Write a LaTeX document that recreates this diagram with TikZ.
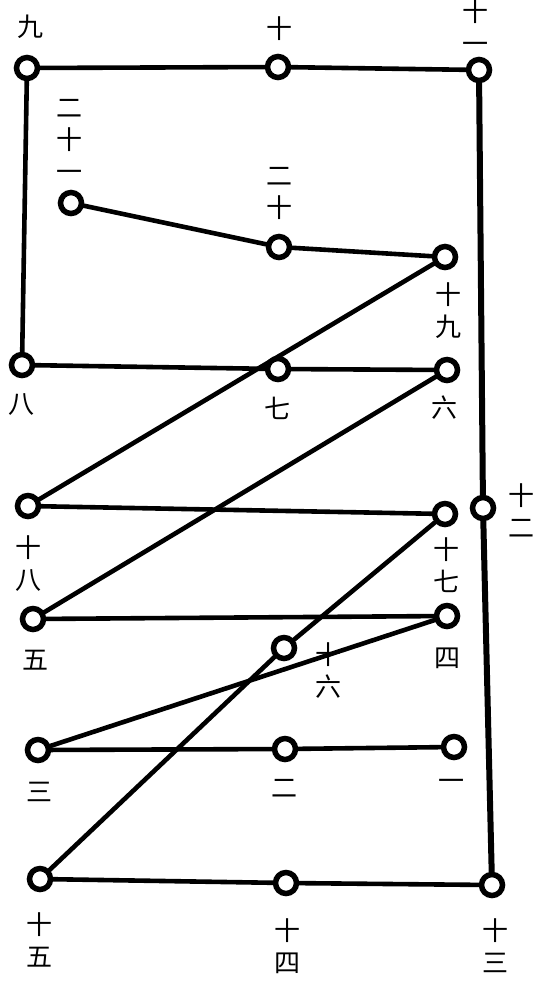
\documentclass[tikz,border=0pt]{standalone}
\usepackage{fontspec}
\newfontfamily\cjk{Noto Sans CJK SC}
\begin{document}
\begin{tikzpicture}[x=1pt,y=-1pt,
  dot/.style={circle,draw,fill=white,line width=5.5pt,minimum size=21pt,inner sep=0pt},
  lab/.style={font=\cjk\fontsize{26}{32}\selectfont,align=center,inner sep=0pt},
  link/.style={line width=4.6pt,line cap=round},
  heavylink/.style={line width=6pt,line cap=round}]
\useasboundingbox (0,0) rectangle (544,993);
% points
\node[dot] (p1)  at (454,747) {};
\node[dot] (p2)  at (285,749) {};
\node[dot] (p3)  at (38,750) {};
\node[dot] (p4)  at (447,616) {};
\node[dot] (p5)  at (33,619) {};
\node[dot] (p6)  at (447,370) {};
\node[dot] (p7)  at (278,369) {};
\node[dot] (p8)  at (22,365) {};
\node[dot] (p9)  at (27,68) {};
\node[dot] (p10) at (278,67) {};
\node[dot] (p11) at (479,70) {};
\node[dot] (p12) at (483,508) {};
\node[dot] (p13) at (492,885) {};
\node[dot] (p14) at (286,883) {};
\node[dot] (p15) at (40,879) {};
\node[dot] (p16) at (284,648) {};
\node[dot] (p17) at (445,514) {};
\node[dot] (p18) at (28,506) {};
\node[dot] (p19) at (445,257) {};
\node[dot] (p20) at (279,247) {};
\node[dot] (p21) at (71,203) {};
% connectors
\draw[link] (p1) -- (p2);
\draw[link] (p2) -- (p3);
\draw[link] (p3) -- (p4);
\draw[link] (p4) -- (p5);
\draw[link] (p5) -- (p6);
\draw[link] (p6) -- (p7);
\draw[link] (p7) -- (p8);
\draw[link] (p8) -- (p9);
\draw[link] (p9) -- (p10);
\draw[link] (p10) -- (p11);
\draw[heavylink] (p11) -- (p12);
\draw[heavylink] (p12) -- (p13);
\draw[link] (p13) -- (p14);
\draw[link] (p14) -- (p15);
\draw[link] (p15) -- (p16);
\draw[link] (p16) -- (p17);
\draw[link] (p17) -- (p18);
\draw[link] (p18) -- (p19);
\draw[link] (p19) -- (p20);
\draw[link] (p20) -- (p21);
% labels
\node[lab] (l1)  at (451,785) {一};
\node[lab] (l2)  at (284,788) {二};
\node[lab] (l3)  at (40,792) {三};
\node[lab] (l4)  at (447,658) {四};
\node[lab] (l5)  at (35,660) {五};
\node[lab] (l6)  at (444,408) {六};
\node[lab] (l7)  at (277,408) {七};
\node[lab] (l8)  at (22,405) {八};
\node[lab] (l9)  at (30,27) {九};
\node[lab] (l10) at (279,29) {十};
\node[lab] (l11) at (475,27) {十\\一};
\node[lab] (l12) at (521,511) {十\\二};
\node[lab] (l13) at (495,946) {十\\三};
\node[lab] (l14) at (287,946) {十\\四};
\node[lab] (l15) at (40,940) {十\\五};
\node[lab] (l16) at (328,671) {十\\六};
\node[lab] (l17) at (446,565) {十\\七};
\node[lab] (l18) at (29,564) {十\\八};
\node[lab] (l19) at (448,311) {十\\九};
\node[lab] (l20) at (279,193) {二\\十};
\node[lab] (l21) at (69,140) {二\\十\\一};
\end{tikzpicture}
\end{document}
